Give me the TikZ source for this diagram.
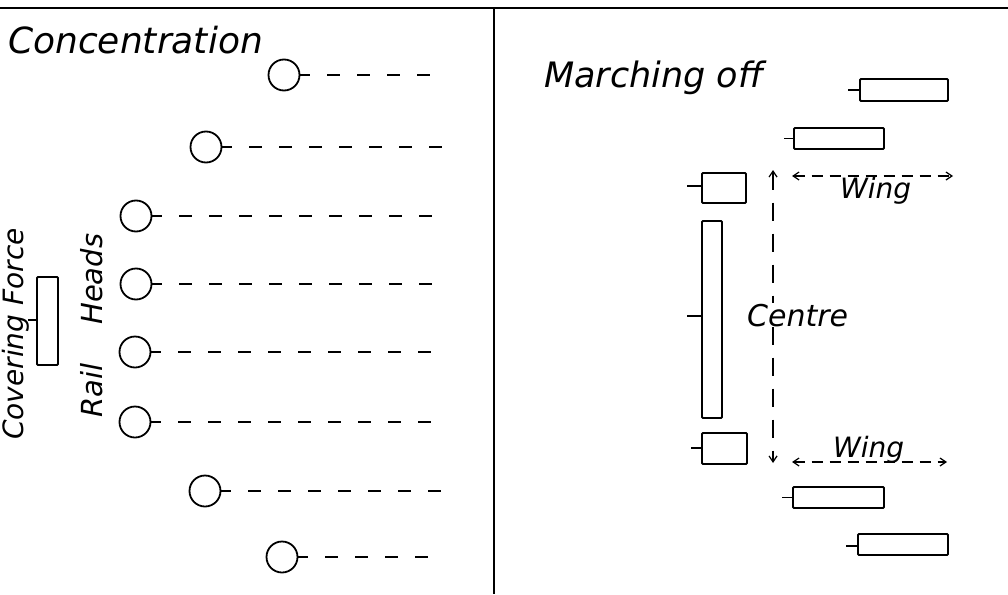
\documentclass[tikz,border=0pt]{standalone}
\usepackage{fontspec}
\setmainfont{DejaVu Sans}
\usetikzlibrary{arrows.meta}
\begin{document}
\begin{tikzpicture}[x=1pt,y=-1pt,
  frame/.style={line width=1.7pt},
  head/.style={circle,draw,line width=1.8pt,minimum size=31pt,inner sep=0pt},
  rail/.style={line width=1.4pt,dash pattern=on 13pt off 17pt,dash phase=3pt},
  unit/.style={draw,line width=1.8pt,rounded corners=1pt,inner sep=0pt},
  tick/.style={line width=1.8pt},
  lbl/.style={inner sep=0pt},
  big/.style={lbl,font=\fontsize{36pt}{40pt}\selectfont\itshape},
  mid/.style={lbl,font=\fontsize{29pt}{32pt}\selectfont\itshape},
  small/.style={lbl,font=\fontsize{28pt}{32pt}\selectfont\itshape},
  barb/.tip={Straight Barb[length=6pt,width=8pt,line width=1.2pt]},
  vspan/.style={line width=1.3pt,dash pattern=on 18pt off 13pt,barb-barb},
  hspan/.style={line width=1.3pt,dash pattern=on 11pt off 7pt,barb-barb},
]
\useasboundingbox[fill=white] (0,0) rectangle (1008,594);
% frame
\coordinate (tl) at (0,8);
\coordinate (tr) at (1008,8);
\coordinate (dt) at (494,8);
\coordinate (db) at (494,594);
\draw[frame] (tl) -- (tr);
\draw[frame] (dt) -- (db);

% ---------- Concentration ----------
\node[big,anchor=base west] (conc) at (8,53) {Concentration};

\node[head] (c1) at (284,75) {};
\node[head] (c2) at (206,147) {};
\node[head] (c3) at (136,216) {};
\node[head] (c4) at (136,284) {};
\node[head] (c5) at (135,352) {};
\node[head] (c6) at (135,422) {};
\node[head] (c7) at (205,491) {};
\node[head] (c8) at (282,557) {};
\foreach \i/\y in {1/75,2/147,3/216,4/284,5/352,6/422,7/491,8/557}{
  \coordinate (e\i) at (442,\y);
  \draw[rail] (c\i.east) -- (e\i);
}

\node[unit,minimum width=21pt,minimum height=88pt] (cf) at (47.5,321) {};
\coordinate (cft) at (28,320);
\draw[tick] (cf.west |- cft) -- (cft);
\node[small,rotate=90,anchor=base west] (cflbl) at (23,440) {Covering Force};
\node[mid,rotate=90,anchor=base west] (rh) at (102,418) {Rail\hspace{39pt}Heads};

% ---------- Marching off ----------
\node[big,anchor=base west,font=\fontsize{35pt}{40pt}\selectfont\itshape] (march) at (544,87) {Marching off};

\node[unit,minimum width=88pt,minimum height=22pt] (r1) at (904,90) {};
\node[unit,minimum width=90pt,minimum height=21pt] (r2) at (839,138.5) {};
\node[unit,minimum width=44pt,minimum height=30pt] (r3) at (724,188) {};
\node[unit,minimum width=20pt,minimum height=197pt] (r4) at (712,319.5) {};
\node[unit,minimum width=45pt,minimum height=31pt] (r5) at (724.5,448.5) {};
\node[unit,minimum width=91pt,minimum height=21pt] (r6) at (838.5,497.5) {};
\node[unit,minimum width=90pt,minimum height=21pt] (r7) at (903,544.5) {};

\coordinate (t1) at (848,90);
\coordinate (t2) at (784,138.5);
\coordinate (t3) at (687,186);
\coordinate (t4) at (687,316);
\coordinate (t5) at (691,448);
\coordinate (t6) at (782,497.5);
\coordinate (t7) at (846,546);
\foreach \i in {1,...,7}{
  \draw[tick] (r\i.west |- t\i) -- (t\i);
}

% centre span
\coordinate (vt) at (773,170);
\coordinate (vb) at (773,463);
\draw[vspan] (vt) -- (vb);
\node[small,font=\fontsize{30pt}{32pt}\selectfont\itshape,anchor=base west,fill=white,inner sep=1pt] (centre) at (746,326) {Centre};

% wing spans
\coordinate (w1l) at (792,176);
\coordinate (w1r) at (953,176);
\draw[hspan] (w1l) -- (w1r);
\node[small,anchor=base west] (wing1) at (840,198) {Wing};

\coordinate (w2l) at (792,462);
\coordinate (w2r) at (947,462);
\draw[hspan] (w2l) -- (w2r);
\node[small,anchor=base west] (wing2) at (833,457) {Wing};
\end{tikzpicture}
\end{document}
